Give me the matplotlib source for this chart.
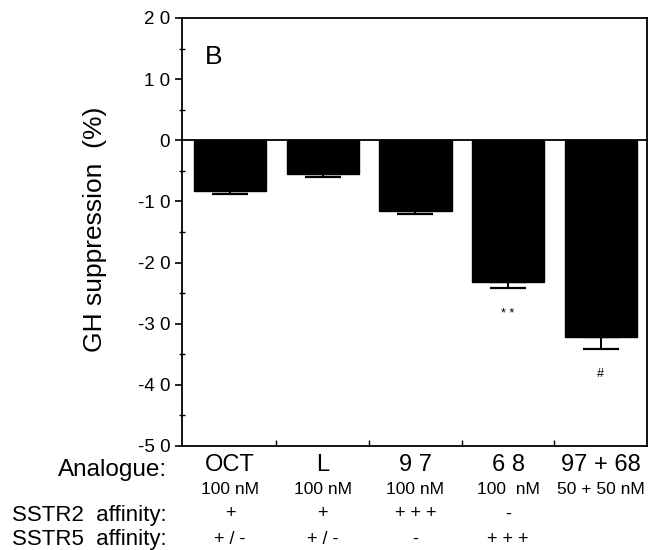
import numpy as np
import matplotlib.pyplot as plt

plt.rcParams['font.family'] = ['Liberation Sans', 'DejaVu Sans']

# datos
analogos = ['OCT', 'L', '9 7', '6 8', '97 + 68']
dosis = ['100 nM', '100 nM', '100 nM', '100  nM', '50 + 50 nM']
sstr2 = ['+', '+', '+ + +', '-', '']
sstr5 = ['+ / -', '+ / -', '-', '+ + +', '']
supresion = [-8.3, -5.5, -11.6, -23.2, -32.2]
error = [0.45, 0.5, 0.4, 1.0, 1.9]
signif = ['', '', '', '* *', '#']
y_ticks = [20, 10, 0, -10, -20, -30, -40, -50]
y_etiquetas = ['2 0', '1 0', '0', '-1 0', '-2 0', '-3 0', '-4 0', '-5 0']

fig = plt.figure(figsize=(6.56, 5.5), dpi=100)
ax = fig.add_axes([182/656, 1-446/550, 465/656, 428/550])

x = np.arange(len(analogos))
ax.bar(x, supresion, width=0.78, color='black', edgecolor='black', zorder=2)
ax.errorbar(x, supresion, yerr=[error, np.zeros(len(error))], fmt='none',
            ecolor='black', elinewidth=1.4, capsize=13, capthick=1.6, zorder=3)
ax.axhline(0, color='black', lw=1.3)

for i in range(len(x)):
    if signif[i]:
        ax.text(x[i], supresion[i] - error[i] - 4.2, signif[i],
                ha='center', va='center', fontsize=9)

ax.set_xlim(-0.52, 4.5)
ax.set_ylim(-50, 20)
ax.set_yticks(y_ticks)
ax.set_yticklabels(y_etiquetas, fontsize=13.5)
ax.set_yticks(np.arange(-45, 20, 10), minor=True)
ax.tick_params(axis='y', which='major', direction='out', length=5, width=1.2)
ax.tick_params(axis='y', which='minor', direction='inout', length=5, width=1)
ax.set_xticks(np.arange(0.5, 4, 1))
ax.set_xticklabels([])
ax.tick_params(axis='x', direction='in', length=4, width=1)
for lado in ax.spines.values():
    lado.set_linewidth(1.3)

ax.set_ylabel('GH suppression  (%)', fontsize=19)
ax.yaxis.set_label_coords((107 - 182) / 465, (446 - 229) / 428)
ax.text(0.05, 0.909, 'B', transform=ax.transAxes, fontsize=19, ha='left', va='center')

# etiquetas debajo del eje
fy = lambda py: 1 - py / 550
fig.text(167/656, fy(470), 'Analogue:', ha='right', va='center', fontsize=17.5)
fig.text(167/656, fy(515), 'SSTR2  affinity:', ha='right', va='center', fontsize=16)
fig.text(167/656, fy(540), 'SSTR5  affinity:', ha='right', va='center', fontsize=16)
for i in range(len(x)):
    xf = fig.transFigure.inverted().transform(ax.transData.transform((x[i], 0)))[0]
    fig.text(xf, fy(465), analogos[i], ha='center', va='center', fontsize=17)
    fig.text(xf, fy(490), dosis[i], ha='center', va='center', fontsize=12.5)
    fig.text(xf, fy(514), sstr2[i], ha='center', va='center', fontsize=13)
    fig.text(xf, fy(539), sstr5[i], ha='center', va='center', fontsize=13)

fig.savefig('out.png', dpi=100)
